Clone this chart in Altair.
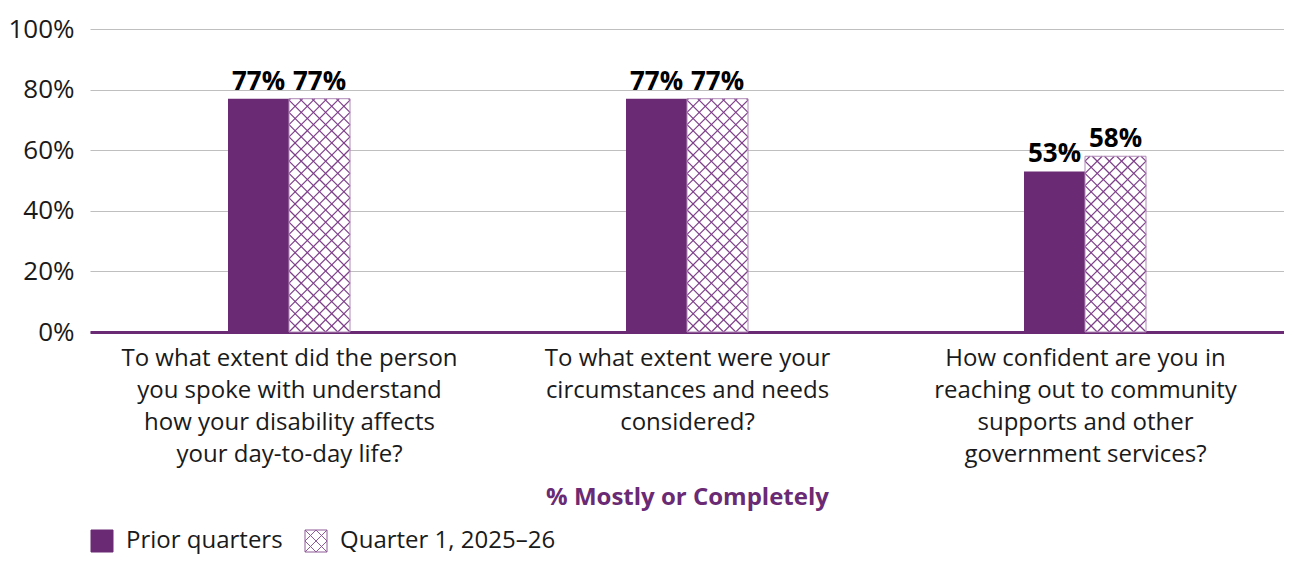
import altair as alt
import pandas as pd

# ---- data ----
questions = [
    "To what extent did the person|you spoke with understand|how your disability affects|your day-to-day life?",
    "To what extent were your|circumstances and needs|considered?",
    "How confident are you in|reaching out to community|supports and other|government services?",
]
series = ["Prior quarters", "Quarter 1, 2025\u201326"]
prior_values = [77, 77, 53]
q1_values = [77, 77, 58]
y_ticks = [0, 20, 40, 60, 80, 100]

# ---- style ----
PURPLE = "#6B2A74"
HATCH = "#7E3F8A"
OUTLINE = "#B08AB8"
GRID = "#BFBFBF"
TEXT = "#1A1A1A"
FONT = "Open Sans"

PLOT_W = 1194
PLOT_H = 303
PX_X = PLOT_W / 3.0      # pixels per x unit (one question group)
PX_Y = PLOT_H / 100.0    # pixels per percent
BAR_PX = 61
BAR_W = BAR_PX / PX_X
HATCH_STEP = 12.2

# ---- tables ----
bar_rows = []
label_rows = []
for i in range(len(questions)):
    c = i + 0.5
    for s, vals, x0, x1 in (
        (series[0], prior_values, c - BAR_W, c),
        (series[1], q1_values, c, c + BAR_W),
    ):
        v = vals[i]
        bar_rows.append({"series": s, "x": x0, "x2": x1, "y": 0, "y2": v})
        label_rows.append({"series": s, "x": (x0 + x1) / 2, "y": v, "text": f"{v}%"})
bars = pd.DataFrame(bar_rows)
labels = pd.DataFrame(label_rows)

# cross-hatch lines, clipped to each hatched bar
hatch_rows = []
for r in bar_rows:
    if r["series"] != series[1]:
        continue
    w = BAR_PX
    h = r["y2"] * PX_Y
    x0px = r["x"] * PX_X
    k_max = int((w + h) / HATCH_STEP) + 2
    for k in range(-k_max, k_max + 1):
        cc = k * HATCH_STEP
        u0, u1 = max(0.0, -cc), min(w, h - cc)
        if u1 - u0 > 0.5:
            hatch_rows.append({"x": (x0px + u0) / PX_X, "x2": (x0px + u1) / PX_X,
                               "y": (u0 + cc) / PX_Y, "y2": (u1 + cc) / PX_Y})
        u0, u1 = max(0.0, cc - h), min(w, cc)
        if u1 - u0 > 0.5:
            hatch_rows.append({"x": (x0px + u0) / PX_X, "x2": (x0px + u1) / PX_X,
                               "y": (cc - u0) / PX_Y, "y2": (cc - u1) / PX_Y})
hatch = pd.DataFrame(hatch_rows)

legend_pts = pd.DataFrame({"series": series, "x": [0.5, 0.5], "y": [-50, -50]})

label_array = ",".join("'" + q + "'" for q in questions)
x_label_expr = f"split([{label_array}][floor(datum.value)], '|')"

x_scale = alt.Scale(domain=[0, 3], nice=False, zero=False)
y_scale = alt.Scale(domain=[0, 100], nice=False)

x_axis = alt.Axis(
    values=[0.5, 1.5, 2.5], labelExpr=x_label_expr, grid=False, ticks=False,
    domainColor=PURPLE, domainWidth=3, labelFontSize=24, labelLineHeight=32,
    labelColor=TEXT, labelFont=FONT, labelPadding=14, labelOverlap=False,
    labelFlush=False, labelBound=False, labelLimit=0,
    title="% Mostly or Completely", titleFontSize=24, titleFont=FONT,
    titleFontWeight="bold", titleColor=PURPLE, titlePadding=19,
)
y_axis = alt.Axis(
    values=y_ticks, labelExpr="datum.value + '%'", domain=False, ticks=False,
    gridColor=GRID, gridWidth=1, labelFontSize=26, labelFont=FONT,
    labelColor=TEXT, labelPadding=16, title=None,
)

base = alt.Chart(bars)

solid = base.transform_filter(alt.datum.series == series[0]).mark_rect(fill=PURPLE).encode(
    x=alt.X("x:Q", scale=x_scale, axis=x_axis),
    x2="x2:Q",
    y=alt.Y("y:Q", scale=y_scale, axis=y_axis),
    y2="y2:Q",
)
hatched_bg = base.transform_filter(alt.datum.series == series[1]).mark_rect(fill="white").encode(
    x="x:Q", x2="x2:Q", y="y:Q", y2="y2:Q"
)
hatch_lines = alt.Chart(hatch).mark_rule(color=HATCH, strokeWidth=1.2).encode(
    x="x:Q", x2="x2:Q", y="y:Q", y2="y2:Q"
)
hatched_outline = base.transform_filter(alt.datum.series == series[1]).mark_rect(
    fillOpacity=0, stroke=OUTLINE, strokeWidth=1
).encode(x="x:Q", x2="x2:Q", y="y:Q", y2="y2:Q")

value_labels = alt.Chart(labels).mark_text(
    font=FONT, fontSize=26, fontWeight="bold", color="black", baseline="alphabetic", dy=-9
).encode(x="x:Q", y="y:Q", text="text:N")

solid_path = "M-1,-1H1V1H-1Z"
hatch_path = "M-1,-1H1V1H-1Z M-1,-1L1,1 M1,-1L-1,1 M0,-1L1,0L0,1L-1,0Z"

legend_layer = alt.Chart(legend_pts).mark_point(filled=True, opacity=1, clip=True, strokeWidth=1).encode(
    x="x:Q",
    y="y:Q",
    shape=alt.Shape("series:N", scale=alt.Scale(domain=series, range=[solid_path, hatch_path]),
                    legend=alt.Legend(title=None)),
    fill=alt.Fill("series:N", scale=alt.Scale(domain=series, range=[PURPLE, "white"]),
                  legend=alt.Legend(title=None)),
    stroke=alt.Stroke("series:N", scale=alt.Scale(domain=series, range=[PURPLE, "#8E5A97"]),
                      legend=alt.Legend(title=None)),
)

chart = alt.layer(
    solid, hatched_bg, hatch_lines, hatched_outline, value_labels, legend_layer
).properties(
    width=PLOT_W, height=PLOT_H,
    autosize=alt.AutoSizeParams(type="none"),
    padding={"left": 82, "top": 21, "right": 0, "bottom": 225},
).configure_view(stroke=None).configure_legend(
    orient="none", legendX=0, legendY=500, direction="horizontal",
    labelFontSize=24, labelFont=FONT, labelColor=TEXT, symbolSize=484,
    symbolStrokeWidth=1, labelOffset=12, columnPadding=20, padding=0, labelLimit=0,
)

chart.save("out.html", embed_options={"renderer": "svg", "actions": False})
